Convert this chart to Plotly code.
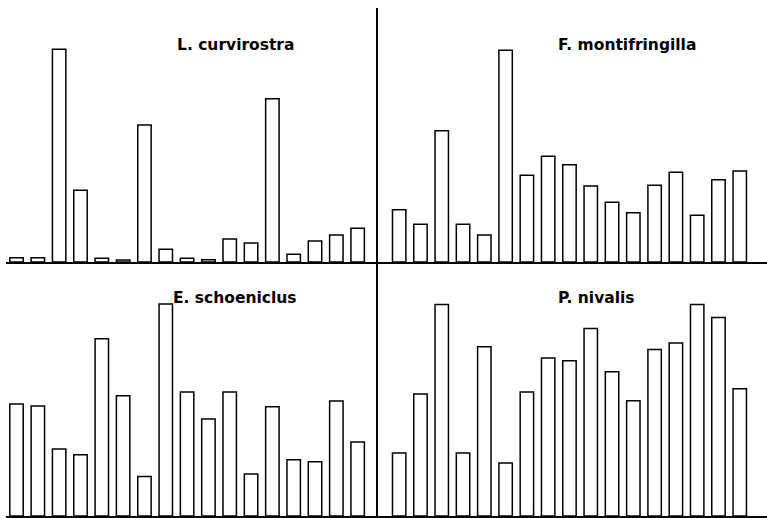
import plotly.graph_objects as go

# 17 sampling periods per species (relative abundance, arbitrary units)
periods = list(range(17))
l_curvirostra = [4.3, 4.3, 212.7, 71.7, 3.7, 2.0, 137.0, 12.7, 3.7, 2.3, 23.0, 19.0, 163.3, 7.7, 21.0, 27.0, 33.7]
f_montifringilla = [52.3, 37.7, 131.3, 37.7, 27.0, 211.7, 86.7, 105.7, 97.3, 76.0, 59.7, 49.3, 76.7, 89.7, 46.7, 82.3, 91.0]
e_schoeniclus = [112.0, 110.0, 67.0, 61.3, 177.3, 120.3, 39.6, 212.0, 124.0, 97.0, 124.0, 42.0, 109.3, 56.3, 54.3, 115.0, 74.0]
p_nivalis = [63.0, 122.0, 211.6, 63.0, 169.3, 53.0, 124.0, 158.0, 155.3, 187.6, 144.3, 115.3, 166.6, 173.0, 211.6, 198.6, 127.3]
titles = ["L. curvirostra", "F. montifringilla", "E. schoeniclus", "P. nivalis"]

W, H = 767, 518
series = [l_curvirostra, f_montifringilla, e_schoeniclus, p_nivalis]
axes = [("x", "y"), ("x2", "y2"), ("x3", "y3"), ("x4", "y4")]

fig = go.Figure()
for vals, (xa, ya) in zip(series, axes):
    fig.add_trace(go.Bar(
        x=periods, y=vals, xaxis=xa, yaxis=ya, width=0.63,
        marker=dict(color="white", line=dict(color="black", width=1.5)),
        showlegend=False, hoverinfo="skip"))

def py(px):
    return 1 - px / H

top_dom = [py(262), py(8)]
bot_dom = [py(516), py(262)]
left_dom = [6 / W, 377.7 / W]
right_dom = [377.7 / W, 1.0]
left_rng = [-0.493, 16.94]
right_rng = [-1.009, 17.28]

xcommon = dict(showline=True, linecolor="black", linewidth=1.5, showticklabels=False,
               showgrid=False, zeroline=False, ticks="", fixedrange=True)

def ycommon(showline):
    return dict(range=[0, 254], showline=showline, linecolor="black", linewidth=1.6,
                showticklabels=False, showgrid=False, zeroline=False, ticks="", side="left")

layout = dict(
    width=W, height=H, margin=dict(l=0, r=0, t=0, b=0),
    paper_bgcolor="white", plot_bgcolor="white", bargap=0.3,
    xaxis=dict(domain=left_dom, range=left_rng, anchor="y", **xcommon),
    yaxis=dict(domain=top_dom, anchor="x", **ycommon(False)),
    xaxis2=dict(domain=right_dom, range=right_rng, anchor="y2", **xcommon),
    yaxis2=dict(domain=top_dom, anchor="x2", **ycommon(True)),
    xaxis3=dict(domain=left_dom, range=left_rng, anchor="y3", **xcommon),
    yaxis3=dict(domain=bot_dom, anchor="x3", **ycommon(False)),
    xaxis4=dict(domain=right_dom, range=right_rng, anchor="y4", **xcommon),
    yaxis4=dict(domain=bot_dom, anchor="x4", **ycommon(True)),
)
fig.update_layout(**layout)

title_pos = [(235, 45), (626.5, 45), (235, 298), (596.5, 298)]
for t, (cx, cy) in zip(titles, title_pos):
    fig.add_annotation(text="<b>" + t + "</b>", x=cx / W, y=py(cy), xref="paper", yref="paper",
                       showarrow=False, xanchor="center", yanchor="middle",
                       font=dict(family="DejaVu Sans", size=15.5, color="black"))

fig.write_html("out.html", config={"displayModeBar": False},
               post_script="document.body.style.margin='0';document.body.style.padding='0';"
                           "document.documentElement.style.overflow='hidden';")
